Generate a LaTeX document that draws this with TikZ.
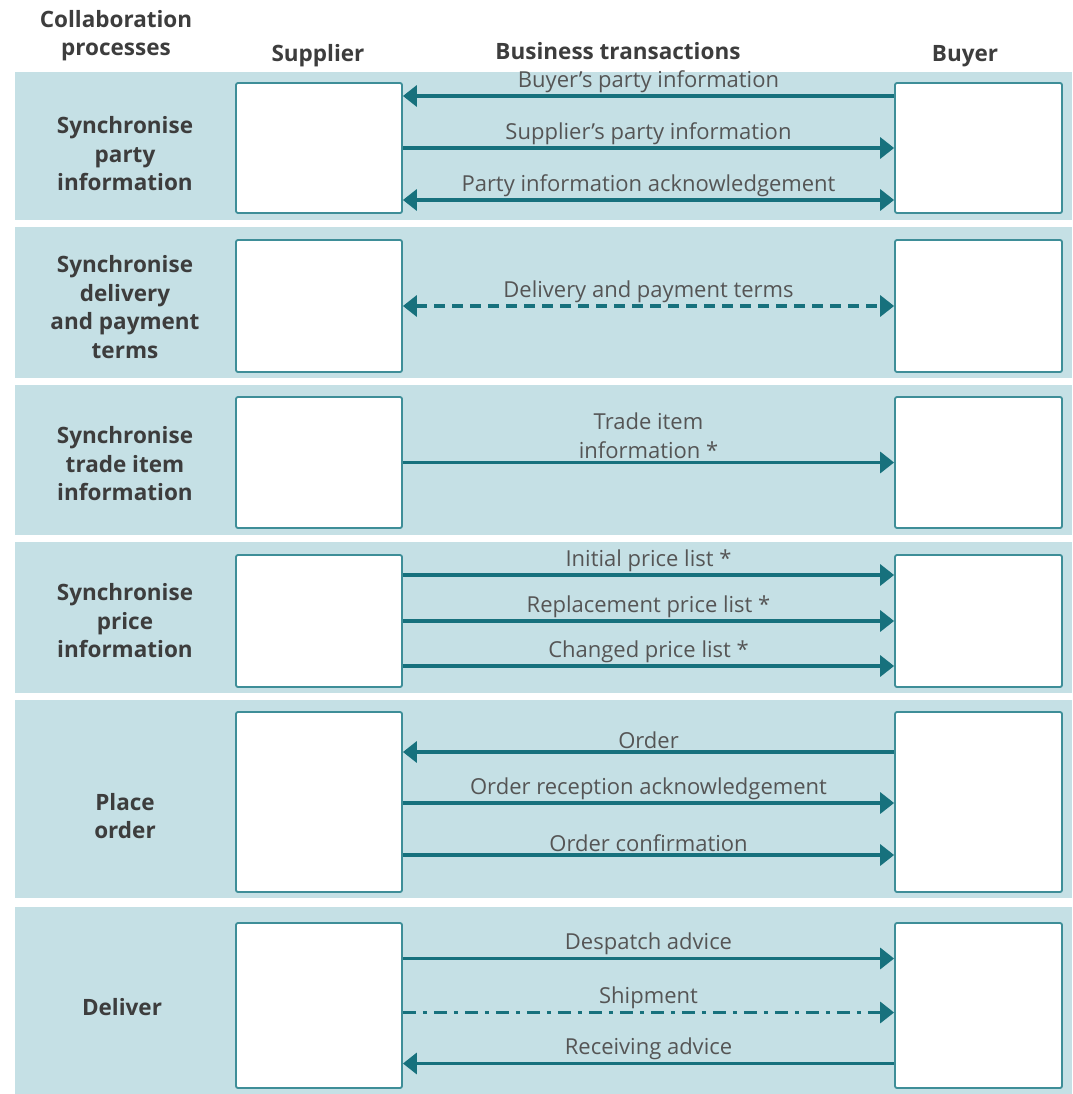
\documentclass[tikz,border=0pt]{standalone}
\usepackage{fontspec}
\setmainfont{Open Sans}
\usetikzlibrary{arrows.meta}
\definecolor{bandblue}{HTML}{C5E0E5}
\definecolor{flowteal}{HTML}{17717D}
\definecolor{boxline}{HTML}{3E8E98}
\definecolor{msgtext}{HTML}{555555}
\definecolor{headtext}{HTML}{3D3D3D}
\tikzset{
  band/.style={fill=bandblue, draw=none},
  party/.style={draw=boxline, line width=1.8pt, fill=white, rounded corners=2pt, inner sep=0pt},
  supplier/.style={party, minimum width=166pt},
  buyer/.style={party, minimum width=167pt},
  process/.style={font=\fontsize{22.5}{28.5}\selectfont\bfseries, text=headtext, align=center},
  heading/.style={font=\fontsize{22.5}{28}\selectfont\bfseries, text=headtext, align=center},
  flow/.style={draw=flowteal, line width=3.8pt, -{Triangle[length=14pt,width=21pt]}},
  both/.style={draw=flowteal, line width=3.8pt, {Triangle[length=14pt,width=21pt]}-{Triangle[length=14pt,width=21pt]}},
  msg/.style={midway, above, inner sep=1.5pt, text=msgtext, font=\fontsize{22}{29}\selectfont, align=center}
}
\begin{document}
\begin{tikzpicture}[x=1pt, y=-1pt]
  \useasboundingbox (0,0) rectangle (1072,1094);
  % bands
  \fill[band] (15,72) rectangle (1072,220);
  \fill[band] (15,227) rectangle (1072,378);
  \fill[band] (15,385) rectangle (1072,535);
  \fill[band] (15,542) rectangle (1072,693);
  \fill[band] (15,700) rectangle (1072,898);
  \fill[band] (15,907) rectangle (1072,1094);
  % headings
  \node[heading] (hproc) at (116,36) {Collaboration\\processes};
  \node[heading] (hsup) at (318,56) {Supplier};
  \node[heading] (htrans) at (618,51) {Business transactions};
  \node[heading] (hbuy) at (965,56) {Buyer};
  % processes
  \node[process] (p1) at (125,154) {Synchronise\\party\\information};
  \node[process] (p2) at (125,307) {Synchronise\\delivery\\and payment\\terms};
  \node[process] (p3) at (125,464) {Synchronise\\trade item\\information};
  \node[process] (p4) at (125,621) {Synchronise\\price\\information};
  \node[process] (p5) at (125,816) {Place\\order};
  \node[process] (p6) at (122,1007) {Deliver};
  % supplier and buyer boxes
  \node[supplier, minimum height=130pt] (s1) at (319,148) {};
  \node[supplier, minimum height=132pt] (s2) at (319,306) {};
  \node[supplier, minimum height=131pt] (s3) at (319,462.5) {};
  \node[supplier, minimum height=132pt] (s4) at (319,621) {};
  \node[supplier, minimum height=180pt] (s5) at (319,802) {};
  \node[supplier, minimum height=165pt] (s6) at (319,1005.5) {};
  \node[buyer, minimum height=130pt] (b1) at (978.5,148) {};
  \node[buyer, minimum height=132pt] (b2) at (978.5,306) {};
  \node[buyer, minimum height=131pt] (b3) at (978.5,462.5) {};
  \node[buyer, minimum height=132pt] (b4) at (978.5,621) {};
  \node[buyer, minimum height=180pt] (b5) at (978.5,802) {};
  \node[buyer, minimum height=165pt] (b6) at (978.5,1005.5) {};
  % party information
  \draw[flow] ([yshift=52pt]b1.west) -- ([yshift=52pt]s1.east) node[msg] {Buyer’s party information};
  \draw[flow] (s1.east) -- (b1.west) node[msg] {Supplier’s party information};
  \draw[both] ([yshift=-52pt]s1.east) -- ([yshift=-52pt]b1.west) node[msg] {Party information acknowledgement};
  % delivery and payment terms
  \draw[both, dash pattern=on 11pt off 7pt] (s2.east) -- (b2.west) node[msg] {Delivery and payment terms};
  % trade item
  \draw[flow] (s3.east) -- (b3.west) node[msg] {Trade item\\information *};
  % price
  \draw[flow] ([yshift=46pt]s4.east) -- ([yshift=46pt]b4.west) node[msg] {Initial price list *};
  \draw[flow] (s4.east) -- (b4.west) node[msg] {Replacement price list *};
  \draw[flow] ([yshift=-45pt]s4.east) -- ([yshift=-45pt]b4.west) node[msg] {Changed price list *};
  % order
  \draw[flow] ([yshift=50pt]b5.west) -- ([yshift=50pt]s5.east) node[msg] {Order};
  \draw[flow] ([yshift=-1pt]s5.east) -- ([yshift=-1pt]b5.west) node[msg] {Order reception acknowledgement};
  \draw[flow] ([yshift=-53pt]s5.east) -- ([yshift=-53pt]b5.west) node[msg] {Order confirmation};
  % deliver
  \draw[flow] ([yshift=47pt]s6.east) -- ([yshift=47pt]b6.west) node[msg] {Despatch advice};
  \draw[flow, dash pattern=on 13pt off 7pt on 4pt off 7pt] ([yshift=-7pt]s6.east) -- ([yshift=-7pt]b6.west) node[msg] {Shipment};
  \draw[flow] ([yshift=-58pt]b6.west) -- ([yshift=-58pt]s6.east) node[msg] {Receiving advice};
\end{tikzpicture}
\end{document}
